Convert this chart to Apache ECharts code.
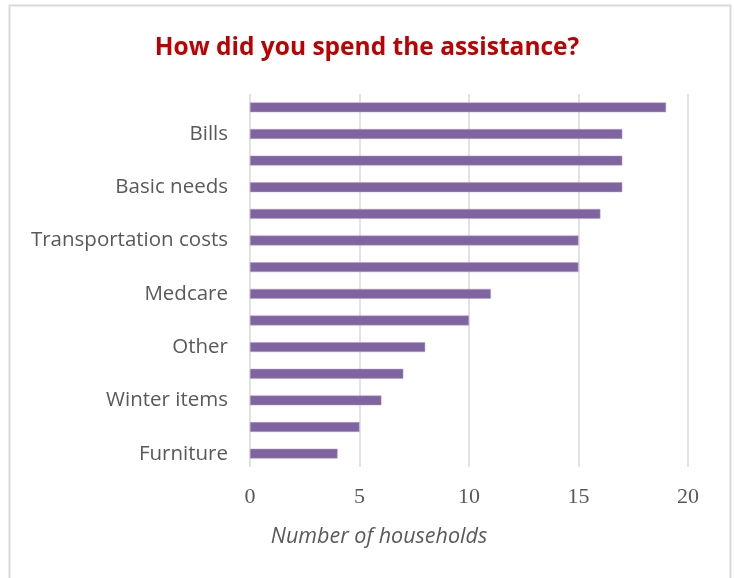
<!DOCTYPE html>
<html>
<head>
<meta charset="utf-8">
<script src="https://cdn.jsdelivr.net/npm/echarts@6/dist/echarts.min.js"></script>
<style>
html,body{margin:0;padding:0;background:#fff;}
#chart{width:734px;height:578px;}
</style>
</head>
<body>
<div id="chart"></div>
<script>
// Categories top to bottom; only every other label is printed in the reference
var categories = ["(unlabelled 1)", "Bills", "(unlabelled 2)", "Basic needs", "(unlabelled 3)", "Transportation costs", "(unlabelled 4)", "Medcare", "(unlabelled 5)", "Other", "(unlabelled 6)", "Winter items", "(unlabelled 7)", "Furniture"];
var households = [19, 17, 17, 17, 16, 15, 15, 11, 10, 8, 7, 6, 5, 4];
var xTicks = [0, 5, 10, 15, 20];
var titleText = "How did you spend the assistance?";
var xAxisTitle = "Number of households";

var chart = echarts.init(document.getElementById('chart'), null, {renderer: 'canvas'});
chart.setOption({
  animation: false,
  backgroundColor: '#ffffff',
  title: {
    text: titleText,
    left: 'center',
    top: 31,
    textStyle: {color: '#C00000', fontWeight: 'bold', fontSize: 24.5, fontFamily: 'Open Sans'}
  },
  graphic: [
    {type: 'rect', shape: {x: 9.5, y: 5.5, width: 721, height: 600}, style: {fill: 'none', stroke: '#d9d9d9', lineWidth: 2}, silent: true, z: -1},
    {type: 'text', x: 379, y: 537, style: {text: xAxisTitle, fill: '#595959', font: 'italic 21.5px "Open Sans"', align: 'center', verticalAlign: 'middle'}}
  ],
  grid: {left: 250, right: 46, top: 94, bottom: 111, containLabel: false},
  xAxis: {
    type: 'value',
    min: xTicks[0],
    max: xTicks[xTicks.length - 1],
    interval: 5,
    axisLine: {show: false},
    axisTick: {show: false},
    splitLine: {show: true, lineStyle: {color: '#d9d9d9', width: 1.5}},
    axisLabel: {color: '#595959', fontSize: 22, fontFamily: 'Liberation Serif', margin: 19}
  },
  yAxis: {
    type: 'category',
    inverse: true,
    data: categories,
    axisLine: {show: false},
    axisTick: {show: false},
    axisLabel: {
      color: '#595959', fontSize: 20.5, fontFamily: 'Open Sans', margin: 22,
      interval: function (index) { return index % 2 === 1; }
    }
  },
  series: [{
    type: 'bar',
    data: households,
    barWidth: '37%',
    itemStyle: {color: '#8064A2', borderColor: '#b3a2c7', borderWidth: 0.5}
  }]
});
</script>
</body>
</html>
